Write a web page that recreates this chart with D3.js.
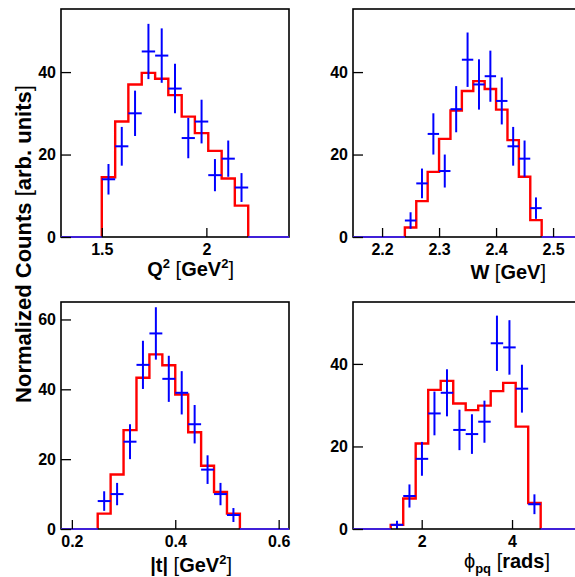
<!DOCTYPE html>
<html>
<head>
<meta charset="utf-8">
<script src="https://cdn.jsdelivr.net/npm/d3@7"></script>
<style>
  html, body { margin: 0; padding: 0; background: #fff; }
  svg { display: block; }
  text { font-family: "Liberation Sans", Arial, Helvetica, sans-serif; font-weight: bold; fill: #000; }
</style>
</head>
<body>
<svg id="chart" width="575" height="577"></svg>
<script>
// ---------------- DATA ----------------
// Q^2 [GeV^2]
const q2Edges = [1.5, 1.564, 1.627, 1.691, 1.755, 1.818, 1.882, 1.945, 2.009, 2.073, 2.136, 2.2];
const q2Model = [14.5, 28.0, 37.0, 39.8, 38.4, 34.4, 29.2, 25.2, 20.9, 14.2, 7.6];
const q2Data  = [14, 22, 30, 45, 44, 36, 24, 28, 15, 19, 12];
const q2Err   = [3.7, 4.7, 5.5, 6.7, 6.6, 6.0, 4.9, 5.3, 3.9, 4.4, 3.5];
const q2Ticks = [1.5, 2];

// W [GeV]
const wEdges = [2.24, 2.26, 2.28, 2.30, 2.32, 2.34, 2.36, 2.38, 2.40, 2.42, 2.44, 2.46, 2.48];
const wModel = [2.3, 8.7, 15.8, 23.8, 30.7, 35.4, 37.8, 35.9, 30.9, 23.5, 14.6, 4.1];
const wData  = [4, 13, 25, 16, 31, 43, 37, 39, 33, 22, 19, 7];
const wErr   = [2.0, 3.6, 5.0, 4.0, 5.6, 6.6, 6.1, 6.2, 5.7, 4.7, 4.4, 2.6];
const wTicks = [2.2, 2.3, 2.4, 2.5];

// |t| [GeV^2]
const tEdges = [0.25, 0.275, 0.30, 0.325, 0.35, 0.375, 0.40, 0.425, 0.45, 0.475, 0.50, 0.525];
const tModel = [4.4, 15.6, 28.3, 43.3, 50.0, 46.9, 38.5, 27.7, 18.1, 10.6, 4.4];
const tData  = [8, 10, 25, 47, 56, 43, 39, 30, 17, 10, 4];
const tErr   = [2.8, 3.2, 5.0, 6.9, 7.5, 6.6, 6.2, 5.5, 4.1, 3.2, 2.0];
const tTicks = [0.2, 0.4, 0.6];

// phi_pq [rads]
const phiEdges = [1.314, 1.591, 1.867, 2.144, 2.421, 2.698, 2.974, 3.251, 3.528, 3.804, 4.081, 4.358, 4.634];
const phiModel = [1.0, 7.4, 20.7, 33.7, 35.9, 30.4, 28.8, 29.9, 33.4, 35.4, 24.8, 6.3];
const phiData  = [1, 8, 17, 28, 33, 24, 23, 26, 45, 44, 34, 6];
const phiErr   = [1.0, 2.8, 4.1, 5.3, 5.7, 4.9, 4.8, 5.1, 6.7, 6.6, 5.8, 2.4];
const phiTicks = [2, 4];

const yTicksTop = [0, 20, 40];
const yTicksBL  = [0, 20, 40, 60];
const yTicksBR  = [0, 20, 40];

const yTitle = "Normalized Counts [arb. units]";

// ---------------- LAYOUT ----------------
const panels = [
  { edges: q2Edges, model: q2Model, data: q2Data, err: q2Err, xticks: q2Ticks, yticks: yTicksTop,
    xdom: [1.305, 2.395], ydom: [0, 55.3], box: [61, 289, 9, 237],
    title: [{t: "Q"}, {t: "2", sup: true}, {t: " "}, {t: "[", thin: true}, {t: "GeV"}, {t: "2", sup: true}, {t: "]", thin: true}],
    titleX: 234, titleY: 276 },
  { edges: wEdges, model: wModel, data: wData, err: wErr, xticks: wTicks, yticks: yTicksTop,
    xdom: [2.149, 2.549], ydom: [0, 55.3], box: [353, 581, 9, 237],
    title: [{t: "W "}, {t: "[", thin: true}, {t: "GeV"}, {t: "]", thin: true}],
    titleX: 546, titleY: 279 },
  { edges: tEdges, model: tModel, data: tData, err: tErr, xticks: tTicks, yticks: yTicksBL,
    xdom: [0.179, 0.62], ydom: [0, 65], box: [61, 289, 302, 529],
    title: [{t: "|t| "}, {t: "[", thin: true}, {t: "GeV"}, {t: "2", sup: true}, {t: "]", thin: true}],
    titleX: 232, titleY: 572 },
  { edges: phiEdges, model: phiModel, data: phiData, err: phiErr, xticks: phiTicks, yticks: yTicksBR,
    xdom: [0.479, 5.527], ydom: [0, 55], box: [353, 581, 302, 529],
    title: [{t: "\u03d5", thin: true}, {t: "pq", sub: true}, {t: " "}, {t: "[", thin: true}, {t: "rads"}, {t: "]", thin: true}],
    titleX: 550, titleY: 568 }
];

const svg = d3.select("#chart");
const RED = "#ff0000", BLUE = "#0000ff";

panels.forEach((p, pi) => {
  const [x0, x1, y0, y1] = p.box;
  const x = d3.scaleLinear().domain(p.xdom).range([x0, x1]);
  const y = d3.scaleLinear().domain(p.ydom).range([y1, y0]);
  const clipId = "clip" + pi;
  svg.append("clipPath").attr("id", clipId).append("rect")
    .attr("x", x0).attr("y", y0 - 2).attr("width", x1 - x0).attr("height", y1 - y0 + 4);
  const g = svg.append("g");
  const gc = g.append("g").attr("clip-path", `url(#${clipId})`);

  const nE = p.edges.length;

  // model histogram (red step line)
  const pts = [[p.edges[0], 0]];
  p.model.forEach((v, i) => { pts.push([p.edges[i], v]); pts.push([p.edges[i + 1], v]); });
  pts.push([p.edges[nE - 1], 0]);
  gc.append("path")
    .attr("d", d3.line().x(d => x(d[0])).y(d => y(d[1]))(pts))
    .attr("fill", "none").attr("stroke", RED).attr("stroke-width", 2.4)
    .attr("stroke-linejoin", "miter");

  // data points with error bars
  const dg = gc.append("g").attr("stroke", BLUE).attr("stroke-width", 2);
  p.data.forEach((v, i) => {
    const xl = p.edges[i], xr = p.edges[i + 1], xc = (xl + xr) / 2;
    dg.append("line").attr("x1", x(xl)).attr("x2", x(xr)).attr("y1", y(v)).attr("y2", y(v));
    dg.append("line").attr("x1", x(xc)).attr("x2", x(xc)).attr("y1", y(v - p.err[i])).attr("y2", y(v + p.err[i]));
  });

  // frame
  g.append("rect").attr("x", x0).attr("y", y0).attr("width", x1 - x0).attr("height", y1 - y0)
    .attr("fill", "none").attr("stroke", "#000").attr("stroke-width", 1.6);

  // zero line of histograms outside the filled range (drawn over the axis)
  const gz = g.append("g").attr("clip-path", `url(#${clipId})`);
  gz.append("line").attr("x1", x(p.xdom[0])).attr("x2", x(p.edges[0]))
    .attr("y1", y(0)).attr("y2", y(0)).attr("stroke", "#4020d8").attr("stroke-width", 2.2);
  gz.append("line").attr("x1", x(p.edges[nE - 1])).attr("x2", x(p.xdom[1]))
    .attr("y1", y(0)).attr("y2", y(0)).attr("stroke", "#4020d8").attr("stroke-width", 2.2);

  // x axis ticks (inside) and labels
  const xAxis = d3.axisBottom(x).tickValues(p.xticks).tickSize(-9).tickPadding(6)
    .tickFormat(d3.format("~g"));
  const xa = g.append("g").attr("transform", `translate(0,${y1})`).call(xAxis);
  xa.select(".domain").remove();
  xa.selectAll(".tick line").attr("stroke", "#000").attr("stroke-width", 1.3);
  xa.selectAll(".tick text").attr("font-size", 16).attr("font-weight", "bold")
    .attr("font-family", "Liberation Sans, Arial, sans-serif").attr("fill", "#000")
    .attr("y", 18).attr("dy", 0);

  // y axis ticks (inside) and labels
  const yAxis = d3.axisLeft(y).tickValues(p.yticks).tickSize(-10).tickPadding(5)
    .tickFormat(d3.format("~g"));
  const ya = g.append("g").attr("transform", `translate(${x0},0)`).call(yAxis);
  ya.select(".domain").remove();
  ya.selectAll(".tick line").attr("stroke", "#000").attr("stroke-width", 1.3);
  ya.selectAll(".tick text").attr("font-size", 16).attr("font-weight", "bold")
    .attr("font-family", "Liberation Sans, Arial, sans-serif").attr("fill", "#000");

  // x title
  const tt = g.append("text").attr("x", p.titleX).attr("y", p.titleY)
    .attr("text-anchor", "end").attr("font-size", 20);
  let shift = 0;
  p.title.forEach(seg => {
    const s = tt.append("tspan").text(seg.t);
    let target = 0;
    if (seg.sup) { s.attr("font-size", 13); target = -8; }
    if (seg.sub) { s.attr("font-size", 13); target = 5; }
    if (seg.thin) { s.attr("font-weight", "normal"); }
    if (target !== shift) { s.attr("dy", target - shift); shift = target; }
  });
});

// global y title
svg.append("text")
  .attr("transform", "translate(31,244) rotate(-90)")
  .attr("text-anchor", "middle").attr("font-size", 22)
  .selectAll("tspan")
  .data([{t: "Normalized Counts "}, {t: "[", thin: true}, {t: "arb. units"}, {t: "]", thin: true}])
  .join("tspan").text(d => d.t).attr("font-weight", d => d.thin ? "normal" : "bold");
</script>
</body>
</html>
